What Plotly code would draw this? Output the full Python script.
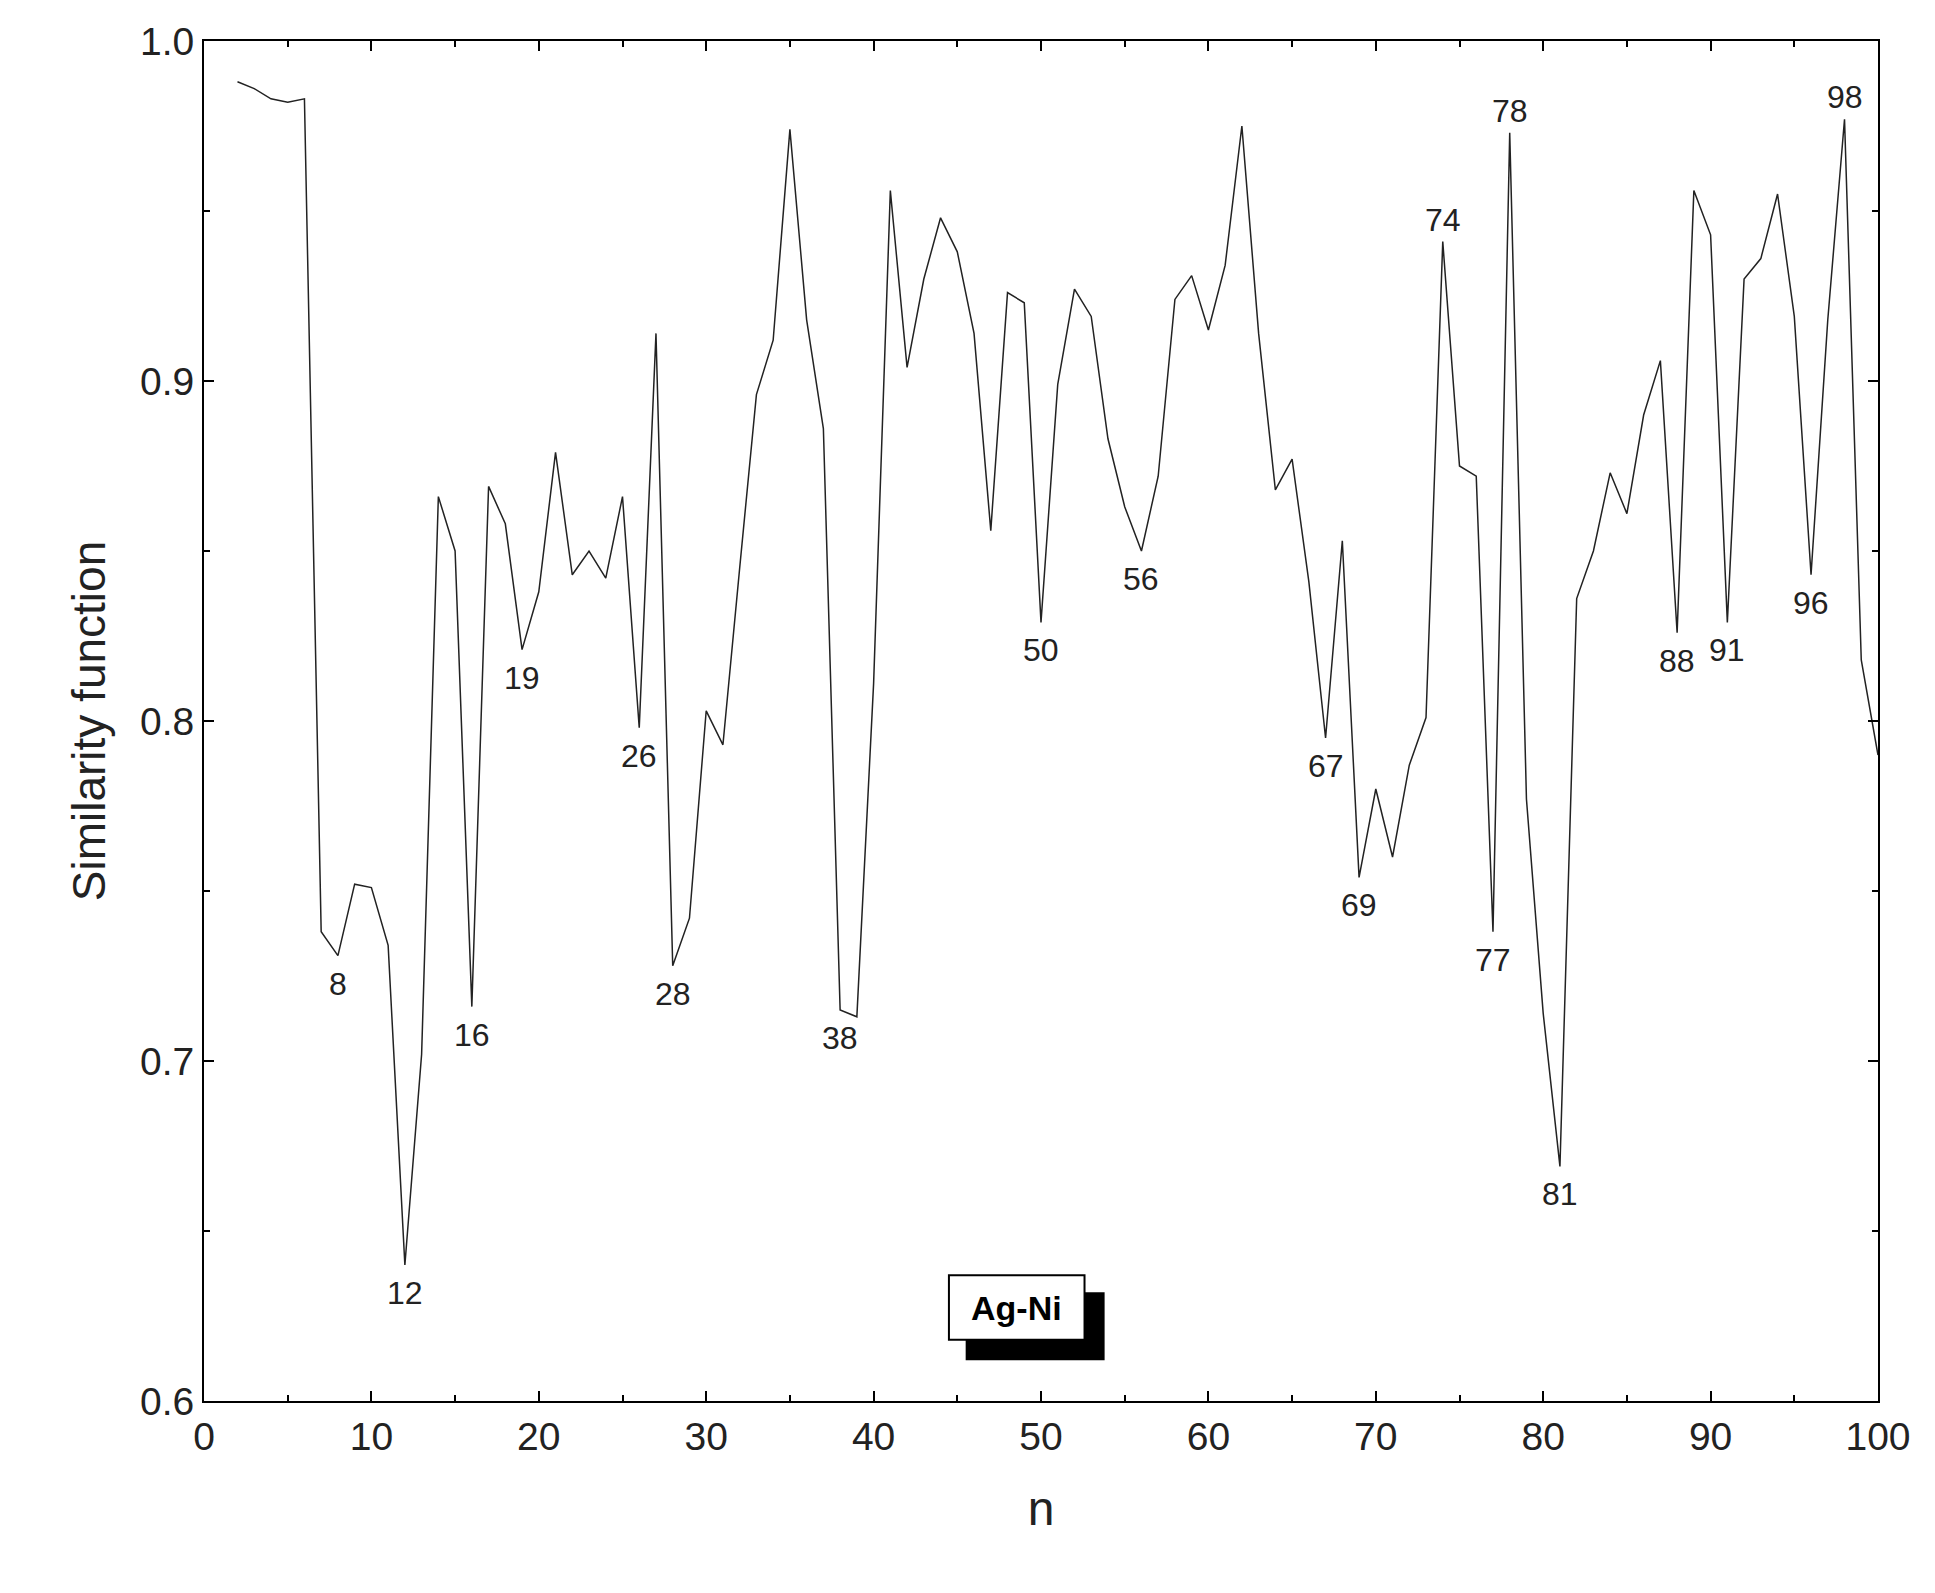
import plotly.graph_objects as go

n = list(range(2, 101))
sim = [0.988,0.986,0.983,0.982,0.983,0.738,0.731,0.752,0.751,0.734,
       0.640,0.702,0.866,0.850,0.716,0.869,0.858,0.821,0.838,0.879,
       0.843,0.850,0.842,0.866,0.798,0.914,0.728,0.742,0.803,0.793,
       0.845,0.896,0.912,0.974,0.918,0.886,0.715,0.713,0.811,0.956,
       0.904,0.930,0.948,0.938,0.914,0.856,0.926,0.923,0.829,0.899,
       0.927,0.919,0.883,0.863,0.850,0.872,0.924,0.931,0.915,0.934,
       0.975,0.914,0.868,0.877,0.841,0.795,0.853,0.754,0.780,0.760,
       0.787,0.801,0.941,0.875,0.872,0.738,0.973,0.777,0.714,0.669,
       0.836,0.850,0.873,0.861,0.890,0.906,0.826,0.956,0.943,0.829,
       0.930,0.936,0.955,0.919,0.843,0.918,0.977,0.818,0.790]

low_labels = [8,12,16,19,26,28,38,50,56,67,69,77,81,88,91,96]
high_labels = [74,78,98]

fig = go.Figure(go.Scatter(x=n, y=sim, mode="lines", line=dict(color="#222", width=1.5)))

for k in low_labels:
    fig.add_annotation(x=k, y=sim[k-2], text=str(k), showarrow=False, yanchor="top", yshift=-8,
                       font=dict(size=32, color="#222"))
for k in high_labels:
    fig.add_annotation(x=k, y=sim[k-2], text=str(k), showarrow=False, yanchor="bottom", yshift=2,
                       font=dict(size=32, color="#222"))

fig.add_shape(type="rect", x0=45.5, x1=53.8, y0=0.612, y1=0.632, fillcolor="black", line=dict(width=0))
fig.add_shape(type="rect", x0=44.5, x1=52.6, y0=0.618, y1=0.637, fillcolor="white", line=dict(color="black", width=2))
fig.add_annotation(x=48.55, y=0.6275, text="<b>Ag-Ni</b>", showarrow=False, font=dict(size=34, color="black"))

axis_common = dict(showline=True, linecolor="black", linewidth=2, mirror="allticks", ticks="inside",
                   ticklen=10, tickwidth=2, tickcolor="black", showgrid=False, zeroline=False,
                   tickfont=dict(size=39, color="#222"))
fig.update_xaxes(range=[0, 100], dtick=10, title=dict(text="n", font=dict(size=48, color="#222"), standoff=35),
                 minor=dict(dtick=5, ticks="inside", ticklen=6, tickcolor="black"), **axis_common)
fig.update_yaxes(range=[0.6, 1.0], dtick=0.1, tickformat=".1f",
                 title=dict(text="Similarity function", font=dict(size=46, color="#222"), standoff=20),
                 minor=dict(dtick=0.05, ticks="inside", ticklen=6, tickcolor="black"), **axis_common)
fig.update_layout(width=1935, height=1593, margin=dict(l=196, r=65, t=33, b=200),
                  plot_bgcolor="white", paper_bgcolor="white", showlegend=False,
                  font=dict(family="Liberation Sans, Arial, sans-serif"))
fig.write_html("out.html")
